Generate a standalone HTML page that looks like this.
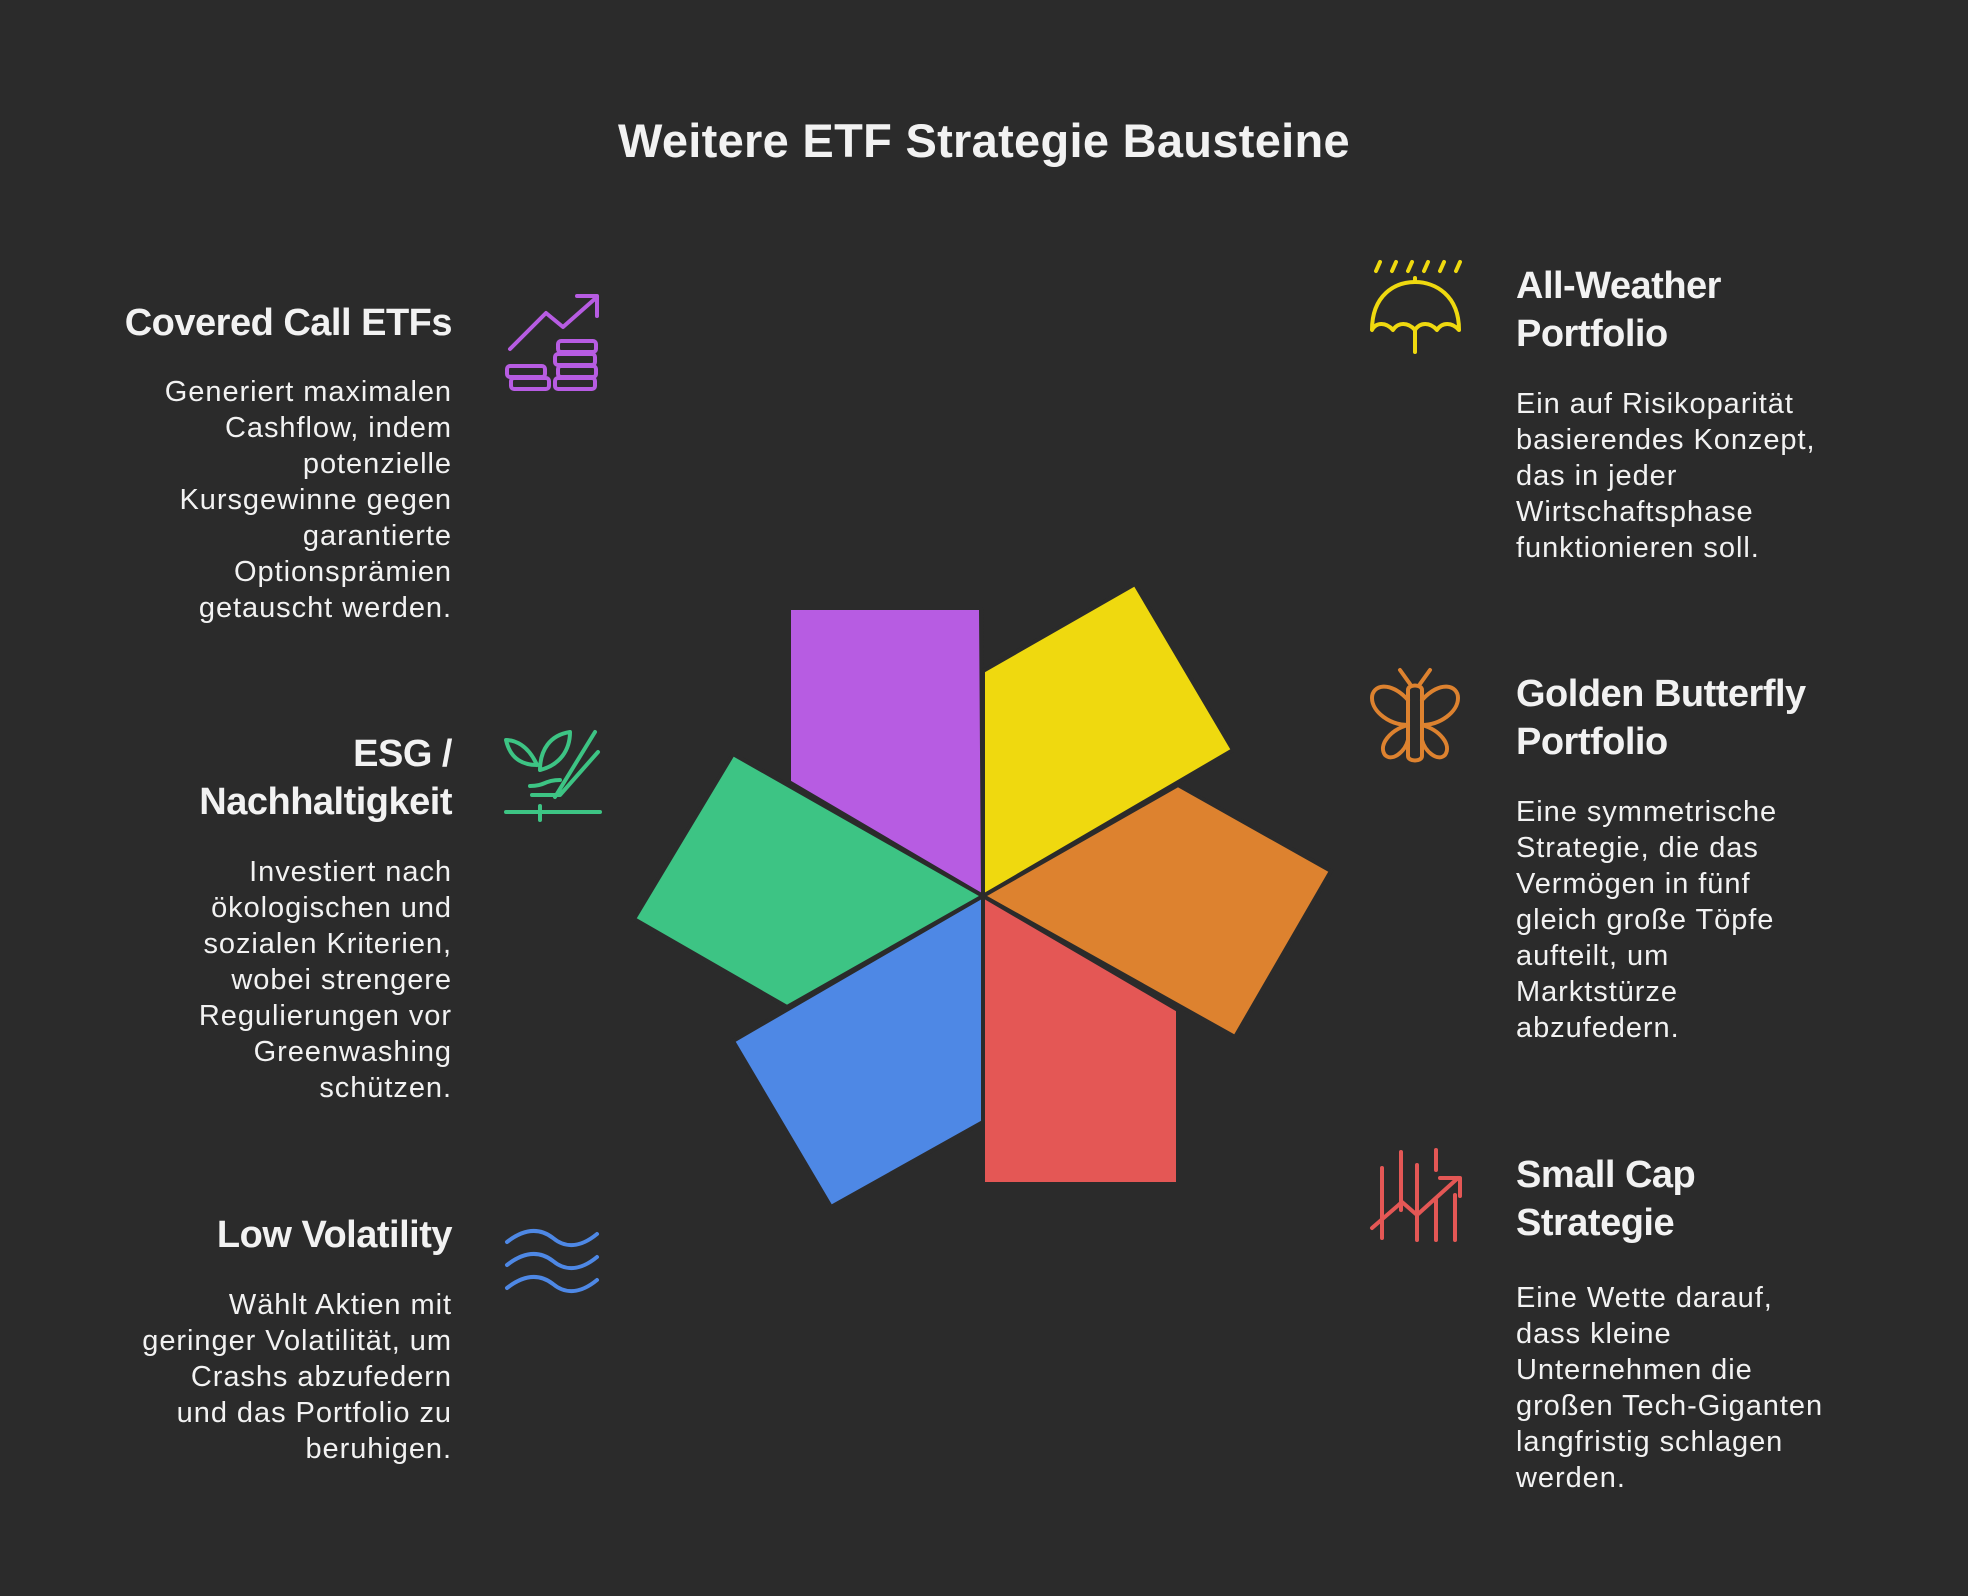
<!DOCTYPE html>
<html><head><meta charset="utf-8"><style>
body{margin:0;width:1968px;height:1596px;background:#2b2b2b;overflow:hidden;font-family:"Liberation Sans",sans-serif;color:#f2f2f2;position:relative}
.t{position:absolute;white-space:nowrap}
.h{font-weight:bold;font-size:38px;line-height:48px;letter-spacing:-0.5px}
.b{font-size:29px;line-height:36px;letter-spacing:0.95px}
.L{right:1516px;text-align:right}
.R{left:1516px;text-align:left}
</style></head><body>
<div class="t" style="left:0;width:1968px;text-align:center;top:113px;font-size:47px;font-weight:bold;line-height:56px;letter-spacing:0.3px">Weitere ETF Strategie Bausteine</div>

<div class="t h L" style="top:299px">Covered Call ETFs</div>
<div class="t b L" style="top:374px">Generiert maximalen<br>Cashflow, indem<br>potenzielle<br>Kursgewinne gegen<br>garantierte<br>Optionsprämien<br>getauscht werden.</div>

<div class="t h L" style="top:730px">ESG /<br>Nachhaltigkeit</div>
<div class="t b L" style="top:854px">Investiert nach<br>ökologischen und<br>sozialen Kriterien,<br>wobei strengere<br>Regulierungen vor<br>Greenwashing<br>schützen.</div>

<div class="t h L" style="top:1211px">Low Volatility</div>
<div class="t b L" style="top:1287px">Wählt Aktien mit<br>geringer Volatilität, um<br>Crashs abzufedern<br>und das Portfolio zu<br>beruhigen.</div>

<div class="t h R" style="top:262px">All-Weather<br>Portfolio</div>
<div class="t b R" style="top:386px">Ein auf Risikoparität<br>basierendes Konzept,<br>das in jeder<br>Wirtschaftsphase<br>funktionieren soll.</div>

<div class="t h R" style="top:670px">Golden Butterfly<br>Portfolio</div>
<div class="t b R" style="top:794px">Eine symmetrische<br>Strategie, die das<br>Vermögen in fünf<br>gleich große Töpfe<br>aufteilt, um<br>Marktstürze<br>abzufedern.</div>

<div class="t h R" style="top:1151px">Small Cap<br>Strategie</div>
<div class="t b R" style="top:1280px">Eine Wette darauf,<br>dass kleine<br>Unternehmen die<br>großen Tech-Giganten<br>langfristig schlagen<br>werden.</div>

<svg width="1968" height="1596" style="position:absolute;left:0;top:0">
<g stroke="#2b2b2b" stroke-width="4" stroke-linejoin="miter">
<polygon points="789,608 981,608 983,896 789,782" fill="#b75ce2"/>
<polygon points="983,671 1135,584 1233,750 983,896" fill="#efd90f"/>
<polygon points="1178,785 1331,871 1235,1037 983,896" fill="#dd822f"/>
<polygon points="983,896 1178,1010 1178,1184 983,1184" fill="#e45755"/>
<polygon points="983,896 983,1122 831,1207 733,1041" fill="#4e88e5"/>
<polygon points="733,754 983,896 787,1007 634,919" fill="#3dc484"/>
</g>
<g fill="none" stroke-width="4" stroke-linecap="round" stroke-linejoin="round">
<g stroke="#b75ce2">
<path d="M510,349 L546,313 L563,327 L597,297 M577,296 L597,296 L597,316"/>
<rect x="507" y="366" width="38" height="11" rx="3"/><rect x="511" y="378" width="38" height="11" rx="3"/>
<rect x="558" y="341" width="38" height="11" rx="3"/><rect x="555" y="354" width="40" height="11" rx="3"/><rect x="558" y="366" width="38" height="11" rx="3"/><rect x="555" y="378" width="40" height="11" rx="3"/>
</g>
<g stroke="#3dc484">
<path d="M506,812 L600,812 M540,806 L540,820 M532,795 L560,795 L598,752 M555,797 L595,732 M530,786 C545,786 545,780 560,780 M540,770 C540,750 550,735 570,732 C570,750 560,765 540,770 M537,765 C528,745 515,740 506,740 C510,758 522,765 537,765"/>
</g>
<g stroke="#4e88e5">
<path d="M507,1242 C525,1228 540,1228 553,1238 C565,1248 580,1248 597,1234"/>
<path d="M507,1265 C525,1251 540,1251 553,1261 C565,1271 580,1271 597,1257"/>
<path d="M507,1288 C525,1274 540,1274 553,1284 C565,1294 580,1294 597,1280"/>
</g>
<g stroke="#efd90f">
<path d="M1372,330 C1372,295 1395,282 1415,282 C1435,282 1459,295 1459,330 C1452,322 1442,322 1437,330 C1430,322 1420,322 1415,330 C1408,322 1398,322 1393,330 C1386,322 1376,322 1372,330 Z M1415,330 L1415,352 M1415,282 L1415,278"/>
<path d="M1376,271 L1380,262 M1392,271 L1396,262 M1408,271 L1412,262 M1424,271 L1428,262 M1440,271 L1444,262 M1456,271 L1460,262"/>
</g>
<g stroke="#dd822f">
<path d="M1408,690 L1408,756 M1422,690 L1422,756 M1408,690 C1408,684 1422,684 1422,690 M1408,756 C1408,762 1422,762 1422,756 M1410,684 L1400,670 M1420,684 L1430,670"/>
<path d="M1408,725 C1390,725 1372,712 1372,698 C1372,685 1390,680 1408,700 M1408,725 C1390,730 1378,745 1385,755 C1392,762 1405,752 1408,740"/>
<path d="M1422,725 C1440,725 1458,712 1458,698 C1458,685 1440,680 1422,700 M1422,725 C1440,730 1452,745 1445,755 C1438,762 1425,752 1422,740"/>
</g>
<g stroke="#e45755">
<path d="M1372,1228 L1402,1202 L1417,1215 L1458,1178 M1440,1178 L1460,1178 L1460,1196"/>
<path d="M1382,1168 L1382,1238 M1401,1152 L1401,1210 M1417,1165 L1417,1240 M1436,1150 L1436,1170 M1436,1200 L1436,1240 M1455,1195 L1455,1240 M1401,1168 L1401,1175"/>
</g>
</g>
</svg>
</body></html>
